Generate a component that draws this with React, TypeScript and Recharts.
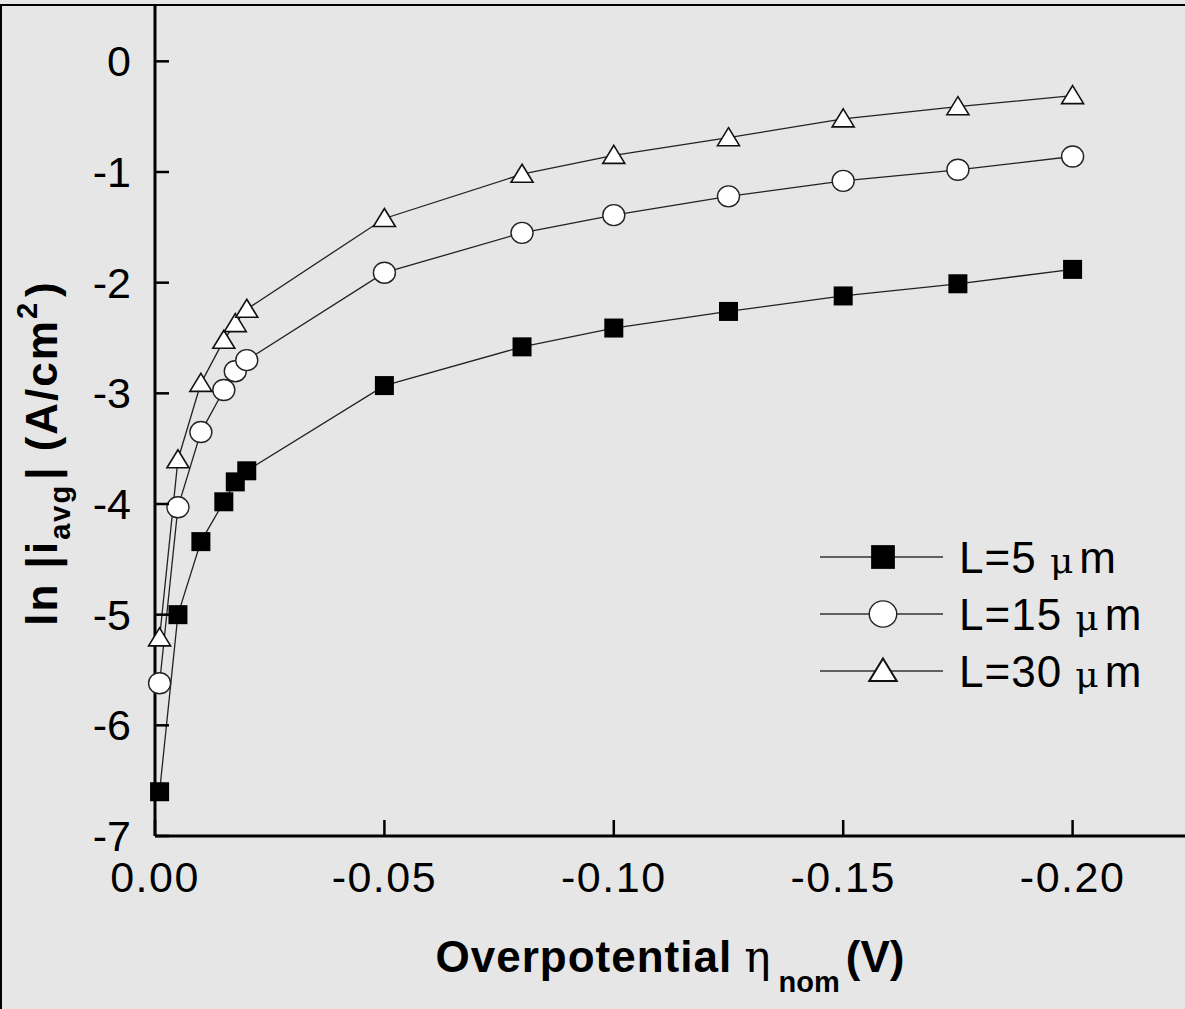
import React from "react";
import { LineChart, Line, XAxis, YAxis, Legend } from "recharts";

// overpotential (V), same sweep for all three electrode lengths
const ETA = [-0.001, -0.005, -0.01, -0.015, -0.0175, -0.02, -0.05, -0.08, -0.1, -0.125, -0.15, -0.175, -0.2];

// ln|i_avg|
const LN_L5 = [-6.6, -5.0, -4.34, -3.98, -3.8, -3.7, -2.93, -2.58, -2.41, -2.26, -2.12, -2.01, -1.88];
const LN_L15 = [-5.62, -4.03, -3.35, -2.97, -2.8, -2.7, -1.91, -1.55, -1.39, -1.22, -1.08, -0.98, -0.86];
const LN_L30 = [-5.21, -3.6, -2.91, -2.52, -2.37, -2.24, -1.42, -1.02, -0.85, -0.69, -0.52, -0.41, -0.31];

const X_TICKS = [0, -0.05, -0.1, -0.15, -0.2];
const Y_TICKS = [-7, -6, -5, -4, -3, -2, -1, 0];

const FONT = "'Liberation Sans', Arial, sans-serif";
const BG = "#e6e6e6";

const toPoints = (ys: number[]) => ETA.map((x, i) => ({ x, y: ys[i] }));

const SERIES = [
  { name: "L=5", marker: "square", data: toPoints(LN_L5) },
  { name: "L=15", marker: "circle", data: toPoints(LN_L15) },
  { name: "L=30", marker: "triangle", data: toPoints(LN_L30) },
];

function Marker({ kind, cx, cy, s = 1 }: { kind: string; cx: number; cy: number; s?: number }) {
  if (kind === "square") {
    return <rect x={cx - 9.5 * s} y={cy - 9.5 * s} width={19 * s} height={19 * s} fill="#000" />;
  }
  if (kind === "circle") {
    return <ellipse cx={cx} cy={cy} rx={11 * s} ry={10.5 * s} fill="#fff" stroke="#222" strokeWidth={1.4} />;
  }
  return (
    <polygon
      points={`${cx},${cy - 10 * s} ${cx + 11 * s},${cy + 8 * s} ${cx - 11 * s},${cy + 8 * s}`}
      fill="#fff"
      stroke="#111"
      strokeWidth={1.6 * s}
      strokeLinejoin="miter"
    />
  );
}

function XTick(props: any) {
  const { x, y, payload } = props;
  const v = payload.value;
  const label = v === 0 ? "0.00" : v.toFixed(2);
  return (
    <g>
      <line x1={x} y1={y} x2={x} y2={y - 16} stroke="#000" strokeWidth={2.5} />
      <text x={x} y={y + 56} textAnchor="middle" fontSize={43} fontFamily={FONT} fill="#000" letterSpacing={1.5}>
        {label}
      </text>
    </g>
  );
}

function YTick(props: any) {
  const { x, y, payload } = props;
  return (
    <g>
      <line x1={x} y1={y} x2={x + 14} y2={y} stroke="#000" strokeWidth={2.5} />
      <text x={x - 24} y={y + 15} textAnchor="end" fontSize={43} fontFamily={FONT} fill="#000">
        {payload.value}
      </text>
    </g>
  );
}

function XTitle(props: any) {
  const vb = props.viewBox;
  return (
    <text
      x={vb.x + vb.width / 2}
      y={vb.y + 136}
      textAnchor="middle"
      fontFamily={FONT}
      fontWeight="bold"
      fontSize={44}
      fill="#000"
    >
      <tspan letterSpacing={1}>Overpotential</tspan>
      <tspan dx={12} fontWeight="normal" fontFamily="'DejaVu Serif', serif">η</tspan>
      <tspan dx={8} dy={20} fontSize={29}>nom</tspan>
      <tspan dx={6} dy={-20}>(V)</tspan>
    </text>
  );
}

function YTitle(props: any) {
  const vb = props.viewBox;
  const bx = vb.x + 57;
  const cy = vb.y + vb.height / 2 + 32;
  return (
    <text
      x={bx}
      y={cy}
      transform={`rotate(-90 ${bx} ${cy})`}
      textAnchor="middle"
      fontFamily={FONT}
      fontWeight="bold"
      fontSize={44}
      fill="#000"
      letterSpacing={2}
    >
      ln |i
      <tspan dy={13} fontSize={29}>avg</tspan>
      <tspan dx={4} dy={-13}>| (A/cm</tspan>
      <tspan dy={-20} fontSize={29}>2</tspan>
      <tspan dx={4} dy={20}>)</tspan>
    </text>
  );
}

function LegendBox() {
  return (
    <svg width={340} height={180} style={{ display: "block" }}>
      {SERIES.map((s, i) => {
        const cy = 37 + i * 57;
        return (
          <g key={s.name}>
            <line x1={10} y1={cy} x2={133} y2={cy} stroke="#333" strokeWidth={1.3} />
            <Marker kind={s.marker} cx={73} cy={cy} s={1.25} />
            <text x={149} y={cy + 16} fontFamily={FONT} fontSize={44} fill="#000" letterSpacing={1}>
              {s.name + " "}
              <tspan fontFamily="'DejaVu Serif', serif" fontSize={36}>μ</tspan>
              <tspan dx={5}>m</tspan>
            </text>
          </g>
        );
      })}
    </svg>
  );
}

export default function App() {
  return (
    <div style={{ position: "relative", width: 1185, height: 1009, background: BG, overflow: "hidden" }}>
      <style>{`body{margin:0;background:${BG};}`}</style>
      <LineChart width={1185} height={1009} margin={{ top: 6, right: 0, bottom: 0, left: 0 }}>
        <XAxis
          dataKey="x"
          type="number"
          domain={[-0.2245, 0]}
          reversed
          ticks={X_TICKS}
          interval={0}
          height={173}
          tickSize={0}
          tickMargin={0}
          axisLine={{ stroke: "#000", strokeWidth: 3 }}
          tick={(p: any) => <XTick {...p} />}
          label={<XTitle />}
        />
        <YAxis
          type="number"
          domain={[-7, 0.5]}
          ticks={Y_TICKS}
          interval={0}
          width={155}
          tickSize={0}
          tickMargin={0}
          axisLine={{ stroke: "#000", strokeWidth: 3 }}
          tick={(p: any) => <YTick {...p} />}
          label={<YTitle />}
        />
        <Legend
          layout="horizontal"
          verticalAlign="middle"
          align="center"
          wrapperStyle={{ left: 810, top: 520, width: 340, height: 180 }}
          content={() => <LegendBox />}
        />
        {SERIES.map((s) => (
          <Line
            key={s.name}
            name={s.name}
            data={s.data}
            dataKey="y"
            type="linear"
            stroke="#222"
            strokeWidth={1.3}
            isAnimationActive={false}
            dot={(p: any) => <Marker key={`${s.name}-${p.index}`} kind={s.marker} cx={p.cx} cy={p.cy} />}
            activeDot={false}
          />
        ))}
      </LineChart>
      {/* outer frame: top and left edges */}
      <div
        style={{
          position: "absolute",
          left: 0,
          top: 4,
          width: 1200,
          height: 1020,
          borderTop: "2px solid #000",
          borderLeft: "2px solid #000",
          pointerEvents: "none",
        }}
      />
    </div>
  );
}
